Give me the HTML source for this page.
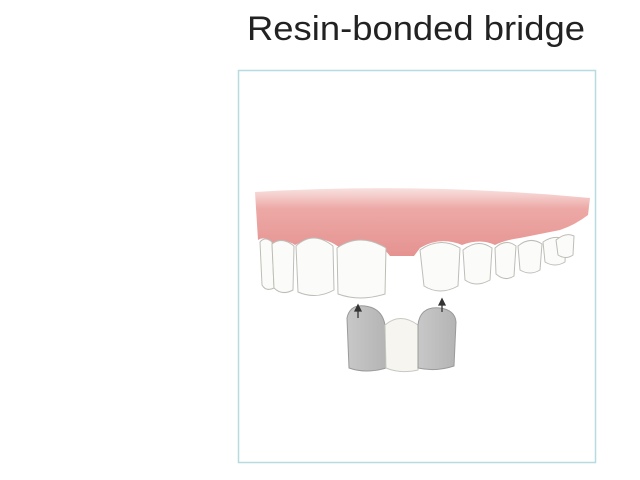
<!DOCTYPE html>
<html><head><style>
html,body{margin:0;padding:0;background:#fff;}
svg{display:block}
</style></head><body>
<svg width="640" height="480" viewBox="0 0 640 480" xmlns="http://www.w3.org/2000/svg">
<defs>
<linearGradient id="gum" x1="0" y1="0" x2="0" y2="1">
<stop offset="0" stop-color="#f8e2e0"/>
<stop offset="0.3" stop-color="#eda9a6"/>
<stop offset="1" stop-color="#e59391"/>
</linearGradient>
<linearGradient id="gray" x1="0" y1="0" x2="1" y2="0">
<stop offset="0" stop-color="#c8c8c8"/><stop offset="1" stop-color="#b4b4b4"/>
</linearGradient>
</defs>
<text x="247" y="40" font-family="Liberation Sans, sans-serif" font-size="34" fill="#222" textLength="338" lengthAdjust="spacingAndGlyphs">Resin-bonded bridge</text>
<rect x="238.5" y="70.5" width="357" height="392" fill="#fff" stroke="#b8dbe0" stroke-width="1.5"/>
<path d="M255,192 Q420,182 590,198 L588,215 Q575,225 560,230 L520,238 Q505,240 495,245 Q480,238 462,245 Q440,236 420,248 L414,256 L390,256 Q375,235 340,248 Q320,232 295,245 Q285,238 275,245 Q265,235 258,240 Z" fill="url(#gum)"/>
<g fill="#fbfbf9" stroke="#bdbdb8" stroke-width="1">
<path d="M260,242 Q265,236 272,242 L274,288 Q266,292 262,285 Z"/>
<path d="M272,244 Q282,236 294,246 L293,290 Q282,296 274,288 Z"/>
<path d="M296,246 Q313,230 333,246 L334,290 Q316,300 298,292 Z"/>
<path d="M337,248 Q360,232 386,248 L385,294 Q360,302 338,294 Z"/>
<path d="M420,250 Q440,236 460,248 L458,286 Q440,296 424,286 Z"/>
<path d="M463,250 Q478,238 492,248 L490,280 Q476,288 465,280 Z"/>
<path d="M495,248 Q506,238 516,246 L514,276 Q505,282 496,274 Z"/>
<path d="M518,246 Q530,236 542,244 L540,270 Q530,276 520,270 Z"/>
<path d="M543,242 Q555,234 566,240 L565,262 Q555,268 545,262 Z"/>
<path d="M556,240 Q566,232 574,236 L573,255 Q566,260 558,255 Z"/>
</g>
<path d="M347,318 Q350,304 365,306 Q382,308 385,325 L386,368 Q366,374 349,368 Z" fill="url(#gray)" stroke="#9a9a9a" stroke-width="1"/>
<path d="M385,325 Q400,312 418,325 L418,370 Q400,374 386,368 Z" fill="#f6f5f0" stroke="#c8c8c2" stroke-width="1"/>
<path d="M418,325 Q420,306 440,308 Q455,310 456,322 L454,366 Q436,372 418,368 Z" fill="url(#gray)" stroke="#9a9a9a" stroke-width="1"/>
<g stroke="#333" stroke-width="1.3" fill="#333">
<line x1="358" y1="318" x2="358" y2="310"/><path d="M355,311 L358,305 L361,311 Z"/>
<line x1="442" y1="312" x2="442" y2="304"/><path d="M439,305 L442,299 L445,305 Z"/>
</g>
</svg>
</body></html>
